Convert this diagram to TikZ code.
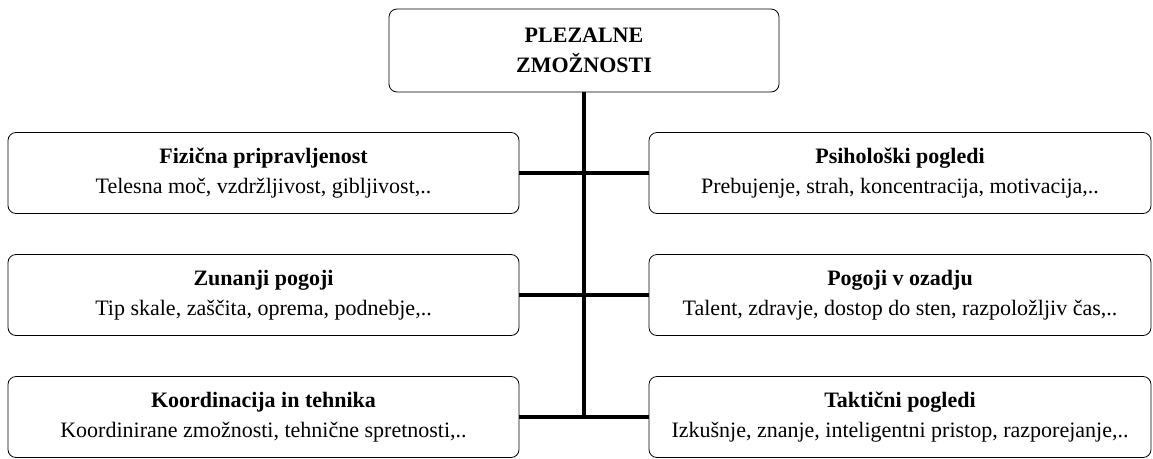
\documentclass[tikz,border=0pt]{standalone}
\usepackage{fontspec}
\setmainfont{Liberation Serif}
\begin{document}
\begin{tikzpicture}
        \tikzstyle{every node}=[draw, rounded corners=8pt, line width=0.8pt, align=center, inner sep=0pt, font=\fontsize{22}{30}\selectfont]
        \useasboundingbox (0,0) rectangle (1153pt,-458pt);

        \path (584pt, -50.5pt) node [minimum width=390pt, minimum height=83pt] (top) {\textbf{PLEZALNE}\\\textbf{ZMOŽNOSTI}};

        \foreach \i/\naslov/\opis in {0/{Fizična pripravljenost}/{Telesna moč, vzdržljivost, gibljivost,..},
                                      1/{Zunanji pogoji}/{Tip skale, zaščita, oprema, podnebje,..},
                                      2/{Koordinacija in tehnika}/{Koordinirane zmožnosti, tehnične spretnosti,..}}
        {
          \path (263.5pt, -173pt-\i*122pt) node [minimum width=511pt, minimum height=81pt] (l\i) {\textbf{\naslov}\\\opis};
        }

        \foreach \i/\naslov/\opis in {0/{Psihološki pogledi}/{Prebujenje, strah, koncentracija, motivacija,..},
                                      1/{Pogoji v ozadju}/{Talent, zdravje, dostop do sten, razpoložljiv čas,..},
                                      2/{Taktični pogledi}/{Izkušnje, znanje, inteligentni pristop, razporejanje,..}}
        {
          \path (900pt, -173pt-\i*122pt) node [minimum width=502pt, minimum height=81pt] (r\i) {\textbf{\naslov}\\\opis};
        }

        \draw [line width=4pt]
          (top.south) -- (top.south |- l2.east);
        \foreach \i in {0, ..., 2}
        {
          \draw [line width=4pt] (l\i.east) -- (r\i.west);
        }
      \end{tikzpicture}
\end{document}
